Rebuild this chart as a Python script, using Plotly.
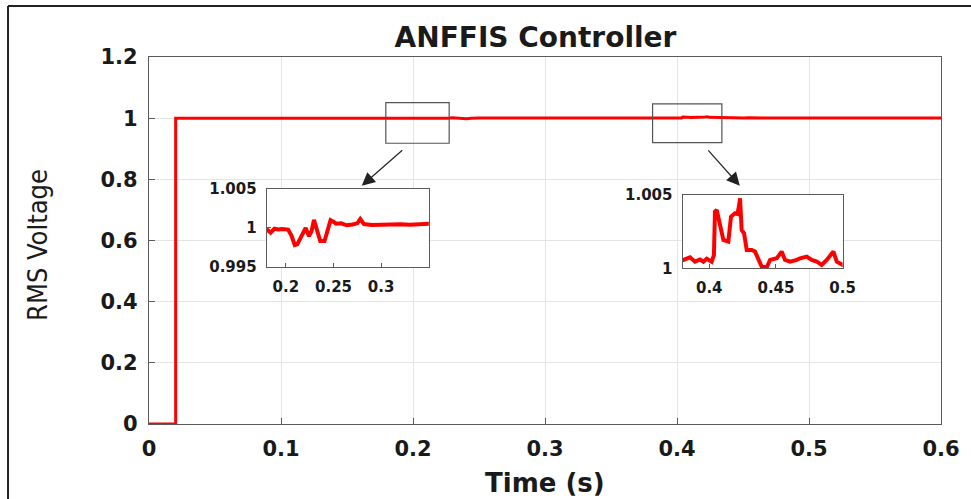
import plotly.graph_objects as go

# RMS voltage response of the ANFFIS controlled system
startup_t = [0.0, 0.0202, 0.0202, 0.10, 0.15]
startup_v = [0.0, 0.0, 1.0, 1.0, 1.0]

# first disturbance (around 0.2 s)
dist1_t = [0.180, 0.184, 0.188, 0.192, 0.196, 0.200, 0.2024, 0.2060, 0.2094, 0.2120,
           0.2146, 0.2185, 0.2208, 0.2243, 0.2270, 0.2295, 0.2326, 0.2361, 0.2406, 0.2441,
           0.2469, 0.2500, 0.2528, 0.2580, 0.2640, 0.2700, 0.2750, 0.2781, 0.2820, 0.2900,
           0.3000, 0.3100, 0.3200, 0.3300, 0.3400, 0.3500, 0.3650]
dist1_v = [0.99985, 0.99940, 0.99990, 0.99980, 0.99988, 0.99983, 0.99980, 0.99900, 0.99782, 0.99790,
           0.99860, 0.99950, 1.00000, 0.99895, 0.99960, 1.00105, 0.99975, 0.99833, 0.99833, 0.99970,
           1.00100, 1.00080, 1.00055, 1.00060, 1.00035, 1.00045, 1.00060, 1.00115, 1.00050, 1.00040,
           1.00045, 1.00040, 1.00048, 1.00042, 1.00045, 1.00040, 1.00050]

# second disturbance (around 0.4 s)
dist2_t = [0.3806, 0.3856, 0.3893, 0.3931, 0.3956, 0.3981, 0.4018, 0.4035, 0.4043, 0.4056,
           0.4081, 0.4106, 0.4143, 0.4163, 0.4193, 0.4211, 0.4222, 0.4231, 0.4243, 0.4261,
           0.4281, 0.4318, 0.4343, 0.4368, 0.4393, 0.4431, 0.4456, 0.4506, 0.4543, 0.4568,
           0.4606, 0.4656, 0.4681, 0.4731, 0.4768, 0.4806, 0.4843, 0.4881, 0.4931, 0.4956,
           0.5001]
dist2_v = [1.00057, 1.00075, 1.00045, 1.00060, 1.00045, 1.00065, 1.00045, 1.00090, 1.00386, 1.00398,
           1.00284, 1.00193, 1.00182, 1.00352, 1.00375, 1.00370, 1.00420, 1.00477, 1.00261, 1.00239,
           1.00125, 1.00125, 1.00114, 1.00057, 1.00011, 1.00007, 1.00057, 1.00068, 1.00114, 1.00057,
           1.00045, 1.00057, 1.00068, 1.00080, 1.00057, 1.00045, 1.00023, 1.00057, 1.00114, 1.00045,
           1.00023]

tail_t = [0.55, 0.60]
tail_v = [1.0003, 1.0003]

time_s = startup_t + dist1_t + dist2_t + tail_t
rms_v = startup_v + dist1_v + dist2_v + tail_v

# axis ticks
main_xticks = [0, 0.1, 0.2, 0.3, 0.4, 0.5, 0.6]
main_xlabels = ["0", "0.1", "0.2", "0.3", "0.4", "0.5", "0.6"]
main_yticks = [0, 0.2, 0.4, 0.6, 0.8, 1.0, 1.2]
main_ylabels = ["0", "0.2", "0.4", "0.6", "0.8", "1", "1.2"]
zoom1_xticks = [0.2, 0.25, 0.3]
zoom1_xlabels = ["0.2", "0.25", "0.3"]
zoom1_yticks = [0.995, 1.0, 1.005]
zoom1_ylabels = ["0.995", "1", "1.005"]
zoom2_xticks = [0.4, 0.45, 0.5]
zoom2_xlabels = ["0.4", "0.45", "0.5"]
zoom2_yticks = [1.0, 1.005]
zoom2_ylabels = ["1", "1.005"]

RED = "#ff0000"
FRAME = "#5a5a5a"
TXT = "#1a1a1a"
BOLD = "DejaVu Sans"

fig = go.Figure()
fig.add_trace(go.Scatter(x=time_s, y=rms_v, mode="lines", line=dict(color=RED, width=3),
                         xaxis="x", yaxis="y", showlegend=False, hoverinfo="skip"))
fig.add_trace(go.Scatter(x=time_s, y=rms_v, mode="lines", line=dict(color=RED, width=4),
                         xaxis="x2", yaxis="y2", showlegend=False, hoverinfo="skip"))
fig.add_trace(go.Scatter(x=time_s, y=rms_v, mode="lines", line=dict(color=RED, width=4),
                         xaxis="x3", yaxis="y3", showlegend=False, hoverinfo="skip"))

tickfont_main = dict(family=BOLD, size=21, color=TXT, weight="bold")
tickfont_inset = dict(family=BOLD, size=15, color=TXT, weight="bold")

common_main = dict(showline=True, linecolor=FRAME, linewidth=1.2, mirror=True,
                   ticks="inside", ticklen=6, tickcolor=FRAME, showgrid=True,
                   gridcolor="#e4e4e4", gridwidth=1, zeroline=False,
                   tickfont=tickfont_main, ticklabelstandoff=6)
common_inset = dict(showline=True, linecolor=FRAME, linewidth=1.2, mirror=True,
                    ticks="inside", ticklen=4, tickcolor=FRAME, showgrid=False,
                    zeroline=False, tickfont=tickfont_inset, ticklabelstandoff=6)

fig.update_layout(
    width=971, height=499,
    margin=dict(l=149, r=30, t=57, b=75),
    paper_bgcolor="white", plot_bgcolor="white",
    title=dict(text="ANFFIS Controller", x=0.488, xref="paper", xanchor="center",
               y=1 - 37 / 499, yref="container", yanchor="middle",
               font=dict(family=BOLD, size=28, color=TXT, weight="bold")),
    xaxis=dict(range=[0, 0.6], tickvals=main_xticks, ticktext=main_xlabels,
               domain=[0, 1], **common_main),
    yaxis=dict(range=[0, 1.2], tickvals=main_yticks, ticktext=main_ylabels,
               domain=[0, 1], **common_main),
    xaxis2=dict(range=[0.18, 0.35], tickvals=zoom1_xticks, ticktext=zoom1_xlabels,
                domain=[0.1487, 0.3533], anchor="y2", **common_inset),
    yaxis2=dict(range=[0.995, 1.005], tickvals=zoom1_yticks, ticktext=zoom1_ylabels,
                domain=[0.4278, 0.6403], anchor="x2", **common_inset),
    xaxis3=dict(range=[0.38, 0.5], tickvals=zoom2_xticks, ticktext=zoom2_xlabels,
                domain=[0.6737, 0.8758], anchor="y3", **common_inset),
    yaxis3=dict(range=[1.0, 1.005], tickvals=zoom2_yticks, ticktext=zoom2_ylabels,
                domain=[0.4243, 0.624], anchor="x3", **common_inset),
)

shapes = [
    # white backgrounds of the inset panels
    dict(type="rect", xref="x2 domain", yref="y2 domain", x0=0, x1=1, y0=0, y1=1,
         fillcolor="white", line=dict(width=0), layer="below"),
    dict(type="rect", xref="x3 domain", yref="y3 domain", x0=0, x1=1, y0=0, y1=1,
         fillcolor="white", line=dict(width=0), layer="below"),
    # zoom windows on the main curve
    dict(type="rect", xref="x", yref="y", x0=0.1794, x1=0.2274, y0=0.918, y1=1.0508,
         line=dict(color="#555555", width=1.2), layer="above"),
    dict(type="rect", xref="x", yref="y", x0=0.3815, x1=0.4340, y0=0.920, y1=1.0465,
         line=dict(color="#555555", width=1.2), layer="above"),
    # outer figure frame
    dict(type="line", xref="paper", yref="paper", x0=-0.178, x1=1.05, y0=1.139, y1=1.139,
         line=dict(color="#222222", width=2)),
    dict(type="line", xref="paper", yref="paper", x0=-0.178, x1=-0.178, y0=1.139, y1=-0.25,
         line=dict(color="#222222", width=2)),
]
fig.update_layout(shapes=shapes)

annotations = [
    dict(text="RMS Voltage", xref="paper", yref="paper", x=(38 - 149) / 792, y=0.488,
         showarrow=False, textangle=-90, xanchor="center", yanchor="middle",
         font=dict(family="DejaVu Sans Condensed, Liberation Sans", size=27, color=TXT)),
    dict(text="Time (s)", xref="paper", yref="paper", x=0.5, y=-(483 - 424) / 367,
         showarrow=False, xanchor="center", yanchor="middle",
         font=dict(family=BOLD, size=26, color=TXT, weight="bold")),
    dict(text="", x=0.1612, y=0.7788, xref="x", yref="y", ax=0.193, ay=0.8996,
         axref="x", ayref="y", showarrow=True, arrowhead=2, arrowsize=2.2,
         arrowwidth=1.2, arrowcolor="#222222"),
    dict(text="", x=0.4476, y=0.7788, xref="x", yref="y", ax=0.4227, ay=0.8996,
         axref="x", ayref="y", showarrow=True, arrowhead=2, arrowsize=2.2,
         arrowwidth=1.2, arrowcolor="#222222"),
]
fig.update_layout(annotations=annotations)

fig.write_html("out.html")
